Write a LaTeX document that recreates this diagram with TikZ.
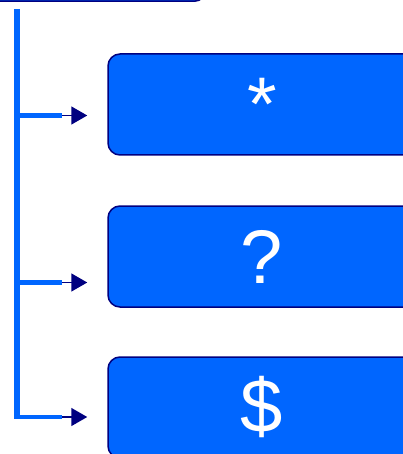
\documentclass[tikz,border=0pt]{standalone}
\usepackage{fontspec}
\setmainfont{Liberation Sans}
\usetikzlibrary{arrows.meta}
\definecolor{boxblue}{HTML}{0066FF}
\definecolor{boxnavy}{HTML}{000080}
\tikzset{
	bluebox/.style={draw=boxnavy, line width=1.5pt, fill=boxblue, rounded corners=12pt,
		inner sep=0pt, minimum width=308pt, minimum height=101pt,
		text=white, font=\fontsize{76}{76}\selectfont},
	trunk/.style={draw=boxblue, line width=6pt},
	branch/.style={draw=boxblue, line width=4.5pt},
	tip/.style={draw=boxnavy, line width=1.5pt, -{Triangle[length=16pt,width=18pt]}}
}
\begin{document}
\begin{tikzpicture}[x=1pt,y=-1pt]
		\useasboundingbox (0,0) rectangle (403,454);
		\clip (0,0) rectangle (403,454);
		
		% top box, cut off by the frame
		\node[bluebox, anchor=south east] (top) at (207,2) {};
		
		% the three boxes
		\node[bluebox] (star) at (262,104.5) {*};
		\node[bluebox] (quest) at (262,256.5) {?};
		\node[bluebox] (dollar) at (262,407.5) {\$};
		
		% trunk
		\coordinate (t0) at (17,9);
		\coordinate (t4) at (17,419);
		\draw[trunk] (t0) -- (t4);
		
		% branches
		\foreach \n/\y/\b in {1/115.5/star,2/282.5/quest,3/417/dollar}
		{
			\coordinate (t\n) at (17,\y);
			\coordinate (e\n) at (62,\y);
			\draw[branch] (t\n) -- (e\n);
			\draw[tip, shorten >=20pt] (e\n) -- (e\n -| \b.west);
		}
	\end{tikzpicture}
\end{document}
